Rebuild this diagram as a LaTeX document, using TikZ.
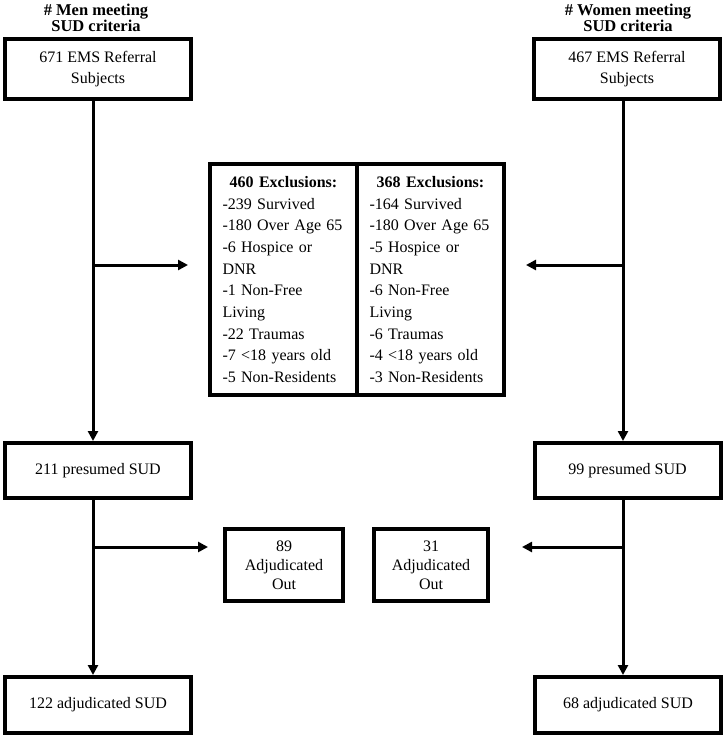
\documentclass[tikz,border=0pt]{standalone}
\usepackage{fontspec}
\setmainfont{Liberation Serif}
\usetikzlibrary{arrows.meta}
\tikzset{
  box/.style={draw=black, line width=4pt, rectangle, inner sep=0pt, align=center,
    font=\fontsize{16}{21}\selectfont},
  exbox/.style={draw=black, line width=4pt, rectangle, inner sep=0pt,
    minimum width=147pt, minimum height=231pt, text width=122pt, align=left,
    font=\fontsize{16}{21.7}\selectfont},
  adbox/.style={draw=black, line width=4pt, rectangle, inner sep=0pt, align=center,
    minimum height=72pt, font=\fontsize{16}{19}\selectfont},
  ttl/.style={align=center, inner sep=0pt, font=\fontsize{16.5}{16.5}\selectfont\bfseries},
  arr/.style={line width=3pt, -{Triangle[length=10pt,width=10pt]}},
  ln/.style={line width=3pt}
}
\begin{document}
\begin{tikzpicture}[x=1pt, y=-1pt]
\useasboundingbox (0,0) rectangle (725,738);
% titles
\node[ttl] (t1) at (96,18) {\# Men meeting\\SUD criteria};
\node[ttl] (t2) at (628,18) {\# Women meeting\\SUD criteria};
% top boxes
\node[box, minimum width=186pt, minimum height=60pt] (b1) at (98,69) {671 EMS Referral\\Subjects};
\node[box, minimum width=186pt, minimum height=60pt] (b2) at (627,69) {467 EMS Referral\\Subjects};
% exclusions
\node[exbox] (exL) at (283.5,279.5) {\makebox[\linewidth][c]{\bfseries 460 Exclusions:}\\
-239 Survived\\-180 Over Age 65\\-6 Hospice or\\DNR\\-1 Non-Free\\Living\\-22 Traumas\\-7 <18 years old\\-5 Non-Residents};
\node[exbox] (exR) at (430.5,279.5) {\makebox[\linewidth][c]{\bfseries 368 Exclusions:}\\
-164 Survived\\-180 Over Age 65\\-5 Hospice or\\DNR\\-6 Non-Free\\Living\\-6 Traumas\\-4 <18 years old\\-3 Non-Residents};
% presumed
\node[box, minimum width=186pt, minimum height=55pt] (p1) at (98,470.5) {211 presumed SUD};
\node[box, minimum width=186pt, minimum height=55pt] (p2) at (627.5,470.5) {99 presumed SUD};
% adjudicated out
\node[adbox, minimum width=118pt] (a1) at (284,565) {89\\Adjudicated\\Out};
\node[adbox, minimum width=114pt] (a2) at (431,565) {31\\Adjudicated\\Out};
% final
\node[box, minimum width=186pt, minimum height=56pt] (f1) at (98,705) {122 adjudicated SUD};
\node[box, minimum width=186pt, minimum height=56pt] (f2) at (628,705) {68 adjudicated SUD};
% trunk coordinates
\coordinate (L) at (93,0);
\coordinate (R) at (623,0);
\coordinate (jl) at (93,265);
\coordinate (jr) at (623,265);
\coordinate (kl) at (93,547);
\coordinate (kr) at (623,547);
% connectors
\draw[arr] (b1.south -| L) -- (p1.north -| L);
\draw[arr] (b2.south -| R) -- (p2.north -| R);
\draw[arr] (jl) -- ([xshift=-20pt]exL.west |- jl);
\draw[arr] (jr) -- ([xshift=20pt]exR.east |- jr);
\draw[arr] (p1.south -| L) -- (f1.north -| L);
\draw[arr] (p2.south -| R) -- (f2.north -| R);
\draw[arr] (kl) -- ([xshift=-15pt]a1.west |- kl);
\draw[arr] (kr) -- ([xshift=32pt]a2.east |- kr);
\end{tikzpicture}
\end{document}
